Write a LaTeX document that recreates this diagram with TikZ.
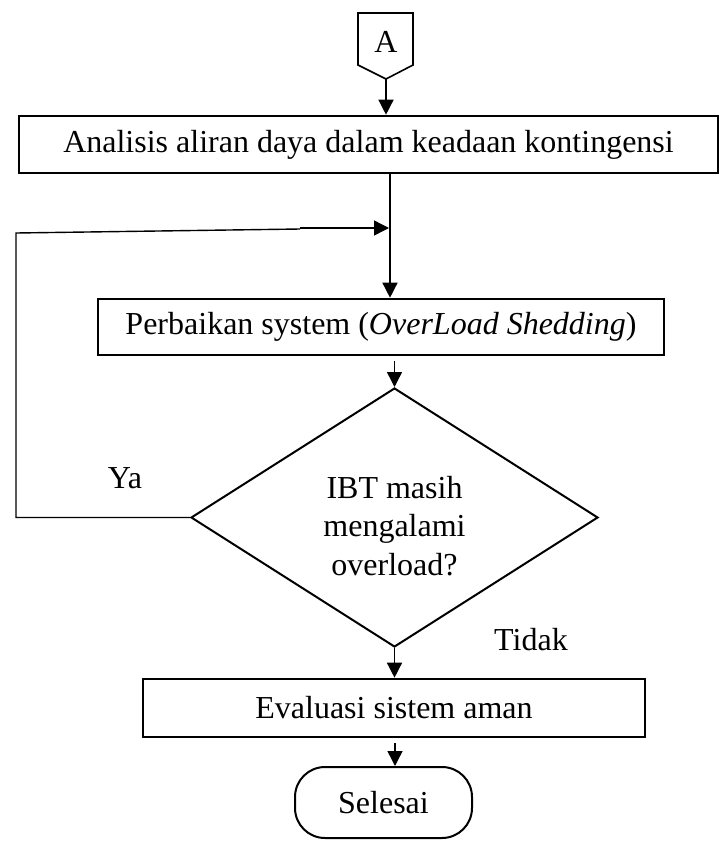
\documentclass[tikz,border=0pt]{standalone}
\usepackage{fontspec}
\setmainfont{Liberation Serif}
\usetikzlibrary{arrows.meta,shapes.geometric}
\begin{document}
\begin{tikzpicture}[x=1pt,y=-1pt,
  every node/.style={font=\fontsize{32}{38.5}\selectfont,inner sep=0pt},
  box/.style={draw,line width=2.6pt},
  flow/.style={line width=1.4pt,-{Triangle[length=15pt,width=15pt]}},
  link/.style={line width=1.4pt}]
\useasboundingbox (0,0) rectangle (719,841);

% off-page connector A
\draw[line width=1.6pt,line join=miter] (358,13) -- (413,13) -- (413,65) -- (386,79) -- (358,65) -- cycle;
\node (conA) at (386,42) {A};
\coordinate (conAtip) at (386,79);

% process boxes
\node[box,minimum width=699pt,minimum height=57pt] (b1) at (368.5,144.5)
  {Analisis aliran daya dalam keadaan kontingensi};
\node[box,minimum width=566pt,minimum height=56pt] (b2) at (381,327)
  {Perbaikan system (\textit{OverLoad Shedding})};
\node[draw,diamond,line width=2pt,minimum width=407pt,minimum height=259pt] (dia) at (394.5,517.5) {};
\node[align=center] (diatext) at (394.5,526) {IBT masih\\mengalami\\overload?};
\node[box,minimum width=502pt,minimum height=58pt] (b3) at (394,708)
  {Evaluasi sistem aman};
\node[draw,line width=2pt,rounded corners=30pt,minimum width=177pt,minimum height=71pt] (term) at (383.5,802.5)
  {Selesai};

% branch labels
\node (ya) at (125,478) {Ya};
\node (tidak) at (531,640) {Tidak};

% helper columns for the vertical connectors
\coordinate (colB) at (390,0);
\coordinate (colT) at (395,0);

% main flow
\draw[flow] (conAtip) -- (conAtip |- b1.north);
\draw[flow] (b1.south -| colB) -- (b2.north -| colB);
\draw[flow,shorten <=5pt] (b2.south -| dia.north) -- (dia.north);
\draw[flow] (dia.south) -- (b3.north -| dia.south);
\draw[flow,shorten <=5pt] (b3.south -| colT) -- (term.north -| colT);

% feedback loop (Ya)
\coordinate (fbL) at (16,233);
\coordinate (fbM) at (300,229);
\coordinate (fbR) at (389,228);
\draw[link] (dia.west) -| (fbL) -- (fbM);
\draw[flow] (fbM |- fbR) -- (fbR);
\end{tikzpicture}
\end{document}
